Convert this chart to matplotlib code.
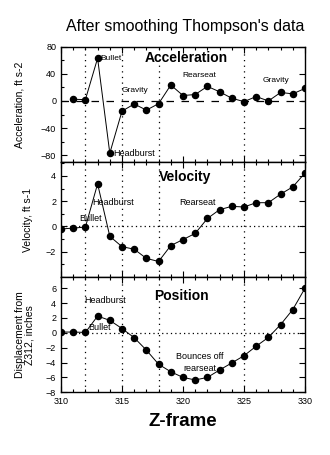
import matplotlib
matplotlib.use("Agg")
import matplotlib.pyplot as plt
from matplotlib.ticker import MultipleLocator

plt.rcParams['font.family'] = ['Liberation Sans', 'DejaVu Sans']

frames_acc = [311, 312, 313, 314, 315, 316, 317, 318, 319, 320, 321, 322, 323, 324, 325, 326, 327, 328, 329, 330]
acceleration = [2.5, 2, 63, -77, -15, -4.5, -13.5, -4, 23.5, 8, 9.5, 21.5, 13.5, 4, -1, 6.5, 0, 12.5, 10.5, 18.5]

frames = [310, 311, 312, 313, 314, 315, 316, 317, 318, 319, 320, 321, 322, 323, 324, 325, 326, 327, 328, 329, 330]
velocity = [-0.2, -0.13, -0.05, 3.37, -0.78, -1.6, -1.8, -2.53, -2.77, -1.51, -1.04, -0.55, 0.63, 1.33, 1.59, 1.54, 1.88, 1.88, 2.56, 3.13, 4.23]
position = [0.1, 0.1, 0.05, 2.25, 1.67, 0.57, -0.66, -2.33, -4.23, -5.24, -6.0, -6.34, -6.0, -5.0, -4.05, -3.08, -1.8, -0.62, 1.1, 3.13, 6.0]

event_frames = [312, 315, 318, 325]
x_ticks = [310, 315, 320, 325, 330]

fig = plt.figure(figsize=(3.3, 4.55), dpi=100)
W, H = 330.0, 455.0
left = 61 / W
width = (305 - 61) / W

def make_ax(top_px, bot_px):
    return fig.add_axes([left, 1 - bot_px / H, width, (bot_px - top_px) / H])

ax1 = make_ax(46.7, 162)
ax2 = make_ax(162, 277)
ax3 = make_ax(277, 392.3)

for ax in (ax1, ax2, ax3):
    ax.set_xlim(310, 330)
    ax.set_xticks(x_ticks)
    ax.xaxis.set_minor_locator(MultipleLocator(1))
    ax.tick_params(which='both', direction='in', top=True, right=True, labelsize=6.5, width=0.8)
    ax.tick_params(which='major', length=4)
    ax.tick_params(which='minor', length=2)
    for s in ax.spines.values():
        s.set_linewidth(1.0)
    for f in event_frames:
        ax.axvline(f, color='black', lw=0.9, ls=(0, (1, 3.5)), zorder=1)

ax1.tick_params(labelbottom=False)
ax2.tick_params(labelbottom=False)

mk = dict(color='black', lw=0.7, marker='o', markersize=4.4, zorder=3)

# Acceleration
ax1.set_ylim(-90, 80)
ax1.set_yticks([80, 40, 0, -40, -80])
ax1.yaxis.set_minor_locator(MultipleLocator(20))
ax1.tick_params(axis='y', which='minor', right=False)
ax1.axhline(0, color='black', lw=0.9, ls=(0, (6, 6)), zorder=1)
ax1.plot(frames_acc, acceleration, **mk)
ax1.text(320.3, 63, 'Acceleration', fontsize=10, fontweight='bold', ha='center', va='center')
ax1.text(313.25, 63, 'Bullet', fontsize=6, va='center', ha='left')
ax1.text(314.25, -78, 'Headburst', fontsize=6.5, va='center', ha='left')
ax1.text(316.05, 16, 'Gravity', fontsize=6, va='center', ha='center')
ax1.text(321.3, 37, 'Rearseat', fontsize=6, va='center', ha='center')
ax1.text(327.6, 30, 'Gravity', fontsize=6, va='center', ha='center')
ax1.set_ylabel('Acceleration, ft s-2', fontsize=7.5, labelpad=12)

# Velocity
ax2.set_ylim(-4, 5.1)
ax2.set_yticks([4, 2, 0, -2])
ax2.yaxis.set_minor_locator(MultipleLocator(1))
ax2.tick_params(axis='y', which='minor', right=False)
ax2.axhline(0, color='black', lw=0.9, ls=(0, (1, 2.5)), zorder=1)
ax2.plot(frames, velocity, clip_on=True, **mk)
ax2.text(320.2, 3.9, 'Velocity', fontsize=10, fontweight='bold', ha='center', va='center')
ax2.text(312.45, 0.63, 'Bullet', fontsize=6.5, va='center', ha='center')
ax2.text(314.3, 1.87, 'Headburst', fontsize=6.5, va='center', ha='center')
ax2.text(321.2, 1.87, 'Rearseat', fontsize=6.5, va='center', ha='center')
ax2.set_ylabel('Velocity, ft s-1', fontsize=7.5, labelpad=9)

# Position
ax3.set_ylim(-8, 7.5)
ax3.set_yticks([6, 4, 2, 0, -2, -4, -6, -8])
ax3.tick_params(axis='y', which='minor', left=False, right=False)
ax3.axhline(0, color='black', lw=0.9, ls=(0, (1, 2.5)), zorder=1)
ax3.plot(frames, position, clip_on=True, **mk)
ax3.text(319.9, 5.0, 'Position', fontsize=10, fontweight='bold', ha='center', va='center')
ax3.text(313.6, 4.3, 'Headburst', fontsize=6.5, va='center', ha='center')
ax3.text(313.2, 0.7, 'Bullet', fontsize=6.5, va='center', ha='center')
ax3.text(321.4, -4.0, 'Bounces off\nrearseat', fontsize=6.5, va='center', ha='center', linespacing=1.3)
ax3.set_ylabel('Displacement from\nZ312, inches', fontsize=7.5, labelpad=8, linespacing=1.0)
ax3.set_xticklabels([str(t) for t in x_ticks])
ax3.set_xlabel('Z-frame', fontsize=13.5, fontweight='bold', labelpad=5)

fig.text(185 / W, 1 - 27 / H, "After smoothing Thompson's data", fontsize=11.5, ha='center', va='center')

fig.savefig('out.png', dpi=100)
